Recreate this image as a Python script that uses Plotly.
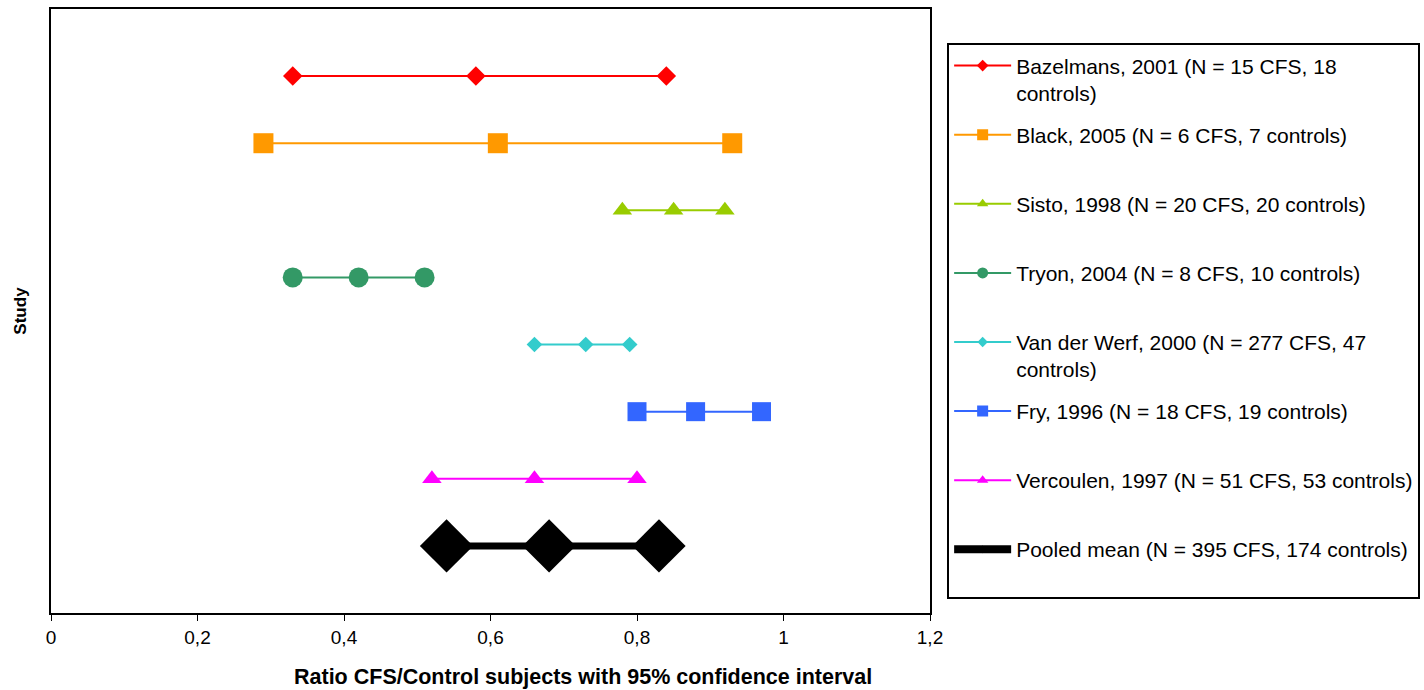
import plotly.graph_objects as go

studies = [
    "Bazelmans, 2001 (N = 15 CFS, 18<br>controls)",
    "Black, 2005 (N = 6 CFS, 7 controls)",
    "Sisto, 1998 (N = 20 CFS, 20 controls)",
    "Tryon, 2004 (N = 8 CFS, 10 controls)",
    "Van der Werf, 2000 (N = 277 CFS, 47<br>controls)",
    "Fry, 1996 (N = 18 CFS, 19 controls)",
    "Vercoulen, 1997 (N = 51 CFS, 53 controls)",
    "Pooled mean (N = 395 CFS, 174 controls)",
]
rank = [8, 7, 6, 5, 4, 3, 2, 1]
lower = [0.33, 0.29, 0.78, 0.33, 0.66, 0.80, 0.52, 0.54]
mean = [0.58, 0.61, 0.85, 0.42, 0.73, 0.88, 0.66, 0.68]
upper = [0.84, 0.93, 0.92, 0.51, 0.79, 0.97, 0.80, 0.83]

colors = ["#FF0000", "#FF9900", "#99CC00", "#339966", "#33CCCC", "#3366FF", "#FF00FF", "#000000"]
symbols = ["diamond", "square", "triangle-up", "circle", "diamond", "square", "triangle-up", "diamond"]
msizes = [15, 20, 17, 20, 12, 19, 17, 41]
leg_msizes = [9, 11, 10, 11, 8, 11, 10, 6]
lwidths = [2, 2, 2, 2, 2, 2, 2, 7]
leg_lwidths = [2, 2, 2, 2, 2, 2, 2, 8]

fig = go.Figure()
for i, name in enumerate(studies):
    fig.add_trace(go.Scatter(
        x=[lower[i], mean[i], upper[i]],
        y=[rank[i]] * 3,
        mode="lines+markers",
        name=name,
        showlegend=False,
        line=dict(color=colors[i], width=lwidths[i]),
        marker=dict(symbol=symbols[i], size=msizes[i], color=colors[i]),
    ))
for i, name in enumerate(studies):
    label = name if "<br>" in name else name + "<br> "
    fig.add_trace(go.Scatter(
        x=[None], y=[None],
        mode="lines+markers",
        name=label,
        legendgroup=str(i),
        showlegend=True,
        line=dict(color=colors[i], width=leg_lwidths[i]),
        marker=dict(symbol=symbols[i], size=leg_msizes[i], color=colors[i]),
    ))

fig.update_layout(
    width=1424, height=690,
    margin=dict(l=51, r=494, t=9, b=77, autoexpand=False),
    plot_bgcolor="white", paper_bgcolor="white",
    separators=",.",
    font=dict(family="Liberation Sans, Arial, sans-serif", color="black"),
    showlegend=True,
    legend=dict(
        x=1.0195, y=0.943, xanchor="left", yanchor="top",
        bordercolor="black", borderwidth=2,
        font=dict(size=21, color="black"),
        traceorder="grouped", tracegroupgap=11.5, valign="top",
        itemwidth=57,
    ),
    xaxis=dict(
        range=[0, 1.2], tickvals=[0, 0.2, 0.4, 0.6, 0.8, 1.0, 1.2],
        ticktext=["0", "0,2", "0,4", "0,6", "0,8", "1", "1,2"],
        showgrid=False, zeroline=False,
        showline=True, linecolor="black", linewidth=2, mirror=True,
        ticks="outside", ticklen=6, tickwidth=1, tickcolor="black",
        tickfont=dict(size=19),
    ),
    yaxis=dict(
        range=[0, 9], showticklabels=False, ticks="",
        showgrid=False, zeroline=False,
        showline=True, linecolor="black", linewidth=2, mirror=True,
        title=dict(text="<b>Study</b>", font=dict(size=17), standoff=18),
    ),
    annotations=[dict(
        text="<b>Ratio CFS/Control subjects with 95% confidence interval</b>",
        xref="paper", yref="paper", x=0.605, y=-0.106,
        xanchor="center", yanchor="middle", showarrow=False,
        font=dict(size=21.5, color="black"),
    )],
)

fig.write_html("out.html")
